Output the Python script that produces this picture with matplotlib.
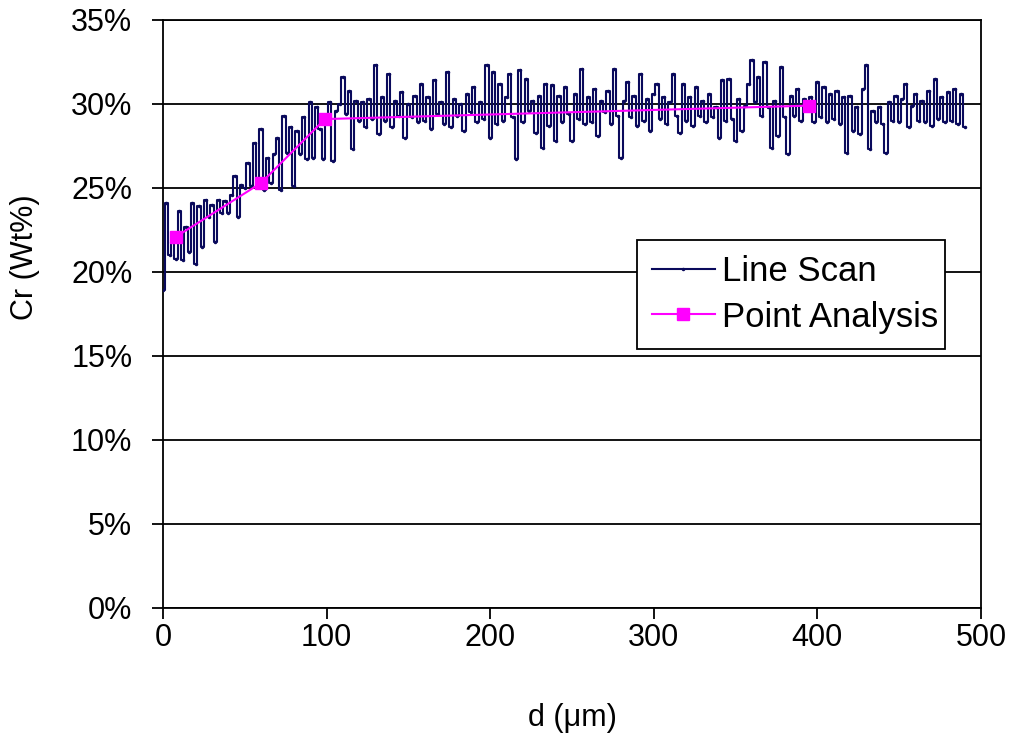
import numpy as np
import matplotlib
matplotlib.use("Agg")
import matplotlib.pyplot as plt
from matplotlib.ticker import MultipleLocator, FuncFormatter

plt.rcParams['font.family'] = ['Liberation Sans', 'DejaVu Sans']

# line scan, one reading every 2 um (Cr wt%)
scan_step = 2
scan_cr = [
    18.9, 24.1, 21.0, 21.8, 20.8, 23.6, 20.7, 22.7, 21.2, 24.1,
    20.5, 23.9, 21.5, 24.3, 23.3, 24.0, 21.8, 24.3, 23.5, 24.2,
    23.5, 24.6, 25.7, 23.3, 25.2, 25.0, 26.5, 25.1, 27.7, 25.6,
    28.5, 24.9, 26.8, 25.3, 27.0, 28.0, 24.9, 29.3, 27.1, 28.6,
    25.1, 28.4, 27.0, 29.2, 26.7, 30.1, 26.8, 29.8, 28.5, 26.7,
    29.2, 30.1, 26.6, 29.6, 30.0, 31.6, 29.4, 30.8, 27.3, 30.2,
    29.0, 30.1, 28.6, 30.3, 29.1, 32.3, 28.2, 30.4, 29.0, 31.8,
    28.6, 30.2, 29.3, 30.7, 28.0, 30.0, 29.2, 30.5, 28.9, 31.2,
    29.0, 30.4, 28.5, 31.4, 29.4, 30.1, 28.8, 31.9, 28.6, 30.3,
    29.3, 30.0, 28.4, 30.6, 29.5, 31.0, 28.9, 30.1, 29.1, 32.3,
    28.0, 31.9, 28.8, 31.2, 29.0, 30.4, 31.8, 29.2, 26.7, 32.0,
    28.9, 31.5, 29.6, 30.2, 28.3, 30.5, 27.4, 31.2, 28.7, 31.1,
    27.8, 30.5, 28.9, 31.0, 29.4, 27.8, 30.6, 29.1, 32.1, 28.8,
    30.4, 28.9, 30.9, 28.1, 30.2, 29.5, 30.8, 28.8, 32.1, 29.3,
    26.8, 30.2, 31.3, 29.2, 30.5, 28.7, 31.8, 29.0, 30.3, 28.4,
    30.6, 31.2, 29.1, 30.4, 28.8, 30.1, 31.8, 29.3, 28.3, 31.2,
    29.0, 30.4, 28.7, 31.0, 29.3, 30.2, 28.9, 30.6, 29.2, 29.8,
    28.0, 31.4, 29.0, 31.5, 29.1, 27.8, 30.3, 28.4, 29.9, 31.2,
    32.6, 30.1, 31.6, 29.3, 32.5, 29.8, 27.4, 30.2, 28.1, 32.2,
    29.2, 27.0, 30.5, 29.3, 30.9, 29.0, 30.3, 29.7, 30.4, 28.9,
    31.3, 29.2, 31.0, 28.9, 30.6, 29.1, 30.8, 28.8, 30.4, 27.1,
    30.5, 28.4, 29.8, 28.2, 30.9, 32.3, 27.3, 29.6, 28.9, 29.8,
    28.8, 27.1, 30.1, 29.0, 30.5, 28.9, 30.3, 31.2, 28.6, 29.9,
    30.6, 29.0, 30.2, 28.9, 30.8, 28.7, 31.5, 29.1, 30.4, 28.9,
    30.7, 29.0, 30.9, 28.8, 30.6, 28.6,
]
scan_d = np.arange(len(scan_cr)) * scan_step

# point analysis
point_d = [8, 60, 99, 395]
point_cr = [22.1, 25.3, 29.1, 29.9]

fig = plt.figure(figsize=(10.16, 7.39), dpi=100)
ax = fig.add_axes([0.1604, 0.1773, 0.8051, 0.7957])

ax.plot(scan_d, scan_cr, color='#0a0a5c', lw=1.5, drawstyle='steps-mid',
        marker='.', markersize=3, label='Line Scan', zorder=3)
ax.plot(point_d, point_cr, color='#ff00ff', lw=1.5, marker='s', markersize=8,
        label='Point Analysis', zorder=4)

ax.set_xlim(0, 500)
ax.set_ylim(0, 35)
ax.xaxis.set_major_locator(MultipleLocator(100))
ax.yaxis.set_major_locator(MultipleLocator(5))
ax.yaxis.set_major_formatter(FuncFormatter(lambda v, p: '%d%%' % round(v)))
ax.yaxis.grid(True, color='black', lw=1.3)
ax.set_axisbelow(True)

for s in ax.spines.values():
    s.set_color('black')
    s.set_linewidth(1.3)
ax.tick_params(direction='out', length=8, width=1.3, labelsize=22)
ax.tick_params(axis='y', pad=14)
ax.tick_params(axis='x', pad=3)

ax.set_xlabel('d (μm)', fontsize=22)
ax.xaxis.set_label_coords(0.5, -0.162)
ax.set_ylabel('Cr (Wt%)', fontsize=22)
ax.yaxis.set_label_coords(-0.15, 0.597)

leg = ax.legend(loc='upper left', bbox_to_anchor=(0.579, 0.626, 0.377, 0.0),
                mode='expand', fontsize=25, frameon=True, fancybox=False,
                handlelength=1.8, borderpad=0.45, labelspacing=0.35,
                handletextpad=0.2, borderaxespad=0)
leg.get_frame().set_edgecolor('black')
leg.get_frame().set_linewidth(1.3)
leg.get_frame().set_alpha(1)

fig.savefig('out.png', dpi=100)
